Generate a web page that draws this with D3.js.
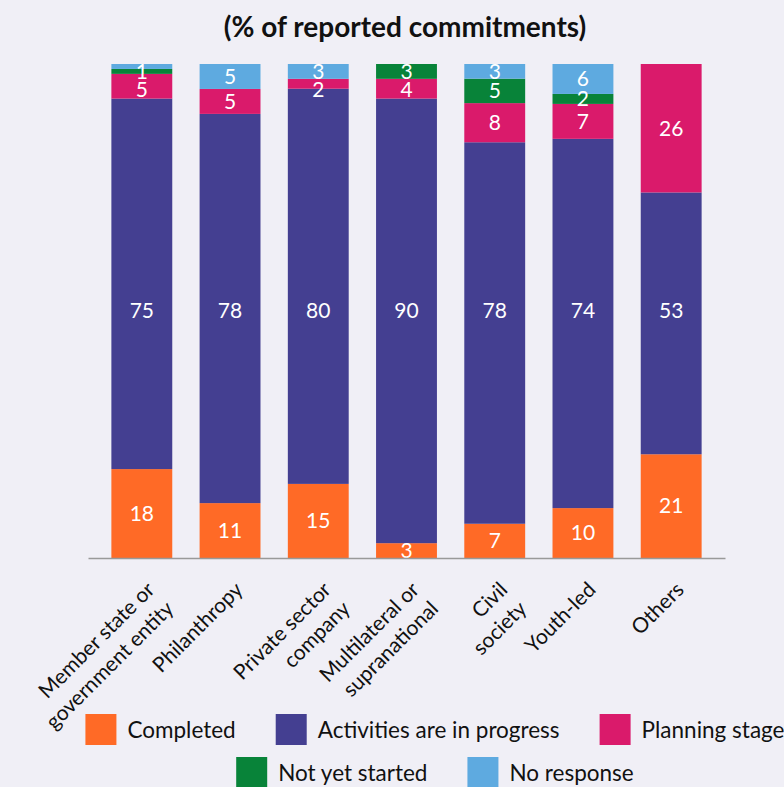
<!DOCTYPE html>
<html lang="en">
<head>
<meta charset="UTF-8">
<title>Commitments by status</title>
<style>
  body { margin: 0; background: #f0eff6; }
  svg { display: block; font-family: Lato, "Open Sans", sans-serif; }
</style>
</head>
<body>
<svg></svg>
<script src="https://d3js.org/d3.v7.min.js"></script>
<script>
// categories (multi-line axis labels) and series
var categories = ["Member state or\ngovernment entity", "Philanthropy", "Private sector\ncompany",
  "Multilateral or\nsupranational", "Civil\nsociety", "Youth-led", "Others"];
var seriesNames = ["Completed", "Activities are in progress", "Planning stage", "Not yet started", "No response"];
var colors = ["#ff6a26", "#443f91", "#da1a6b", "#088339", "#5eaae0"];

var completed  = [18, 11, 15, 3, 7, 10, 21];
var inProgress = [75, 78, 80, 90, 78, 74, 53];
var planning   = [5, 5, 2, 4, 8, 7, 26];
var notStarted = [1, 0, 0, 3, 5, 2, 0];
var noResponse = [1, 5, 3, 0, 3, 6, 0];

var width = 784, height = 787;
var svg = d3.select("svg").attr("width", width).attr("height", height);

var rows = categories.map(function(c, i) {
  return {
    cat: c,
    "Completed": completed[i],
    "Activities are in progress": inProgress[i],
    "Planning stage": planning[i],
    "Not yet started": notStarted[i],
    "No response": noResponse[i]
  };
});

var stack = d3.stack().keys(seriesNames).offset(d3.stackOffsetExpand);
var layers = stack(rows);

var x = d3.scaleBand().domain(categories).range([88, 725])
  .paddingInner(0.31).paddingOuter(0.265);
var y = d3.scaleLinear().domain([0, 1]).range([558, 64]);
var color = d3.scaleOrdinal().domain(seriesNames).range(colors);

// title
svg.append("text")
  .attr("x", 405).attr("y", 37)
  .attr("text-anchor", "middle")
  .attr("font-size", 28).attr("font-weight", "bold")
  .attr("fill", "#111")
  .text("(% of reported commitments)");

var g = svg.append("g");

var layer = g.selectAll(".layer")
  .data(layers)
  .enter().append("g")
  .attr("fill", function(d) { return color(d.key); });

layer.selectAll("rect")
  .data(function(d) { return d; })
  .enter().append("rect")
  .attr("x", function(d) { return x(d.data.cat); })
  .attr("width", x.bandwidth())
  .attr("y", function(d) { return y(d[1]); })
  .attr("height", function(d) { return y(d[0]) - y(d[1]); });

// value labels; the big "in progress" ones sit on the middle line of the plot
var labels = [];
layers.forEach(function(l) {
  l.forEach(function(d) {
    var v = d.data[l.key];
    if (!v) return;
    var cy = l.key === "Activities are in progress" ? y(0.5) : (y(d[0]) + y(d[1])) / 2;
    labels.push({ cat: d.data.cat, v: v, cy: cy });
  });
});
// drop a label that lands right on the previous one, then push the rest apart
var lastY = {};
labels = labels.filter(function(d) {
  if (lastY[d.cat] !== undefined && lastY[d.cat] - d.cy < 10) return false;
  lastY[d.cat] = d.cy;
  return true;
});
var byCat = d3.group(labels, function(d) { return d.cat; });
byCat.forEach(function(list) {
  list.sort(function(a, b) { return a.cy - b.cy; });
  for (var i = 1; i < list.length; i++) {
    if (list[i].cy - list[i - 1].cy < 18) list[i].cy = list[i - 1].cy + 18;
  }
});

g.selectAll(".val")
  .data(labels)
  .enter().append("text")
  .attr("class", "val")
  .attr("x", function(d) { return x(d.cat) + x.bandwidth() / 2; })
  .attr("y", function(d) { return d.cy; })
  .attr("dy", "0.35em")
  .attr("text-anchor", "middle")
  .attr("font-size", 21)
  .attr("fill", "#fff")
  .text(function(d) { return d.v; });

// x axis
var xAxis = svg.append("g")
  .attr("transform", "translate(0,558)")
  .call(d3.axisBottom(x).tickSize(0).tickFormat(""));
xAxis.select(".domain").attr("stroke", "#999").attr("stroke-width", 1.5);

var ticks = svg.append("g").selectAll(".xlab")
  .data(categories)
  .enter().append("text")
  .attr("class", "xlab")
  .attr("text-anchor", "end")
  .attr("font-size", 21)
  .attr("fill", "#111")
  .attr("transform", function(d) {
    return "translate(" + (x(d) + x.bandwidth() / 2 + 14) + ",591) rotate(-45)";
  });

ticks.selectAll("tspan")
  .data(function(d) { return d.split("\n"); })
  .enter().append("tspan")
  .attr("x", 0)
  .attr("dy", function(d, i) { return i ? 27 : 0; })
  .text(function(d) { return d; });

// legend: two centered rows
var legendRows = [seriesNames.slice(0, 3), seriesNames.slice(3)];
var legendY = [714, 757];
legendRows.forEach(function(names, r) {
  var lg = svg.append("g");
  var items = lg.selectAll("g")
    .data(names)
    .enter().append("g");
  items.append("rect")
    .attr("width", 31).attr("height", 31)
    .attr("fill", function(d) { return color(d); });
  items.append("text")
    .attr("x", 42).attr("y", 16).attr("dy", "0.35em")
    .attr("font-size", 22.5)
    .attr("fill", "#111")
    .text(function(d) { return d; });
  var pos = 0;
  items.each(function() {
    var w = this.getBBox().width;
    d3.select(this).attr("transform", "translate(" + pos + ",0)");
    pos += w + 40;
  });
  pos -= 40;
  lg.attr("transform", "translate(" + (435 - pos / 2) + "," + legendY[r] + ")");
});
</script>
</body>
</html>
